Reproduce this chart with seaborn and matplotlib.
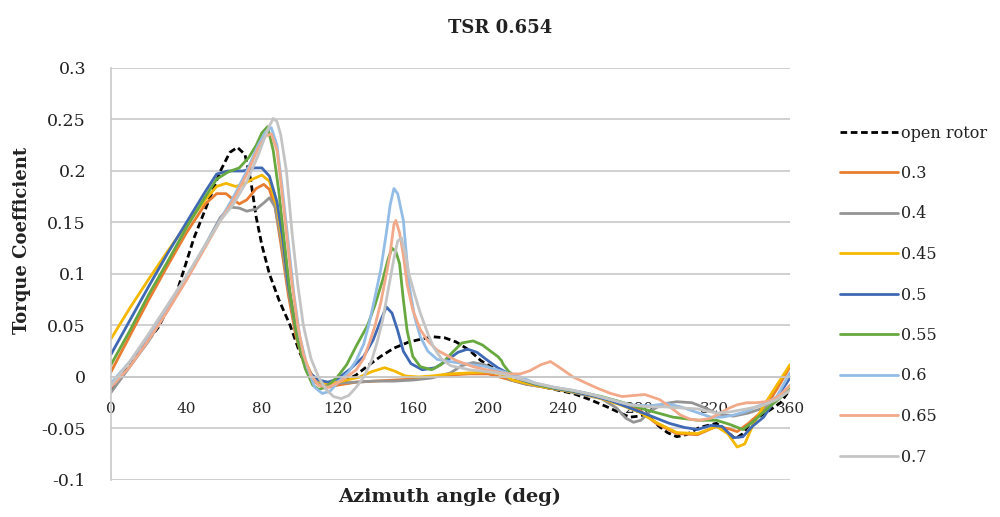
import numpy as np
import pandas as pd
import matplotlib
matplotlib.use("Agg")
import matplotlib.pyplot as plt
import seaborn as sns

# ---------------- data ----------------
series_names = ["open rotor", "0.3", "0.4", "0.45", "0.5", "0.55", "0.6", "0.65", "0.7"]

ang_open = [0, 6, 14, 25, 35, 44, 52, 58, 63, 67, 71, 74, 77, 80, 84, 89, 95, 100, 105, 110, 115, 122,
            130, 137, 143, 150, 158, 165, 171, 177, 183, 190, 196, 205, 215, 225, 235, 245, 254, 263, 270,
            275, 280, 284, 290, 295, 300, 305, 312, 321, 326, 331, 335, 340, 347, 355, 360]
cq_open = [-0.012, 0.004, 0.022, 0.048, 0.083, 0.135, 0.172, 0.2, 0.218, 0.223, 0.216, 0.192, 0.155, 0.128,
           0.1, 0.075, 0.05, 0.024, 0.004, -0.006, -0.008, -0.006, 0.002, 0.012, 0.02, 0.028, 0.034, 0.037,
           0.039, 0.038, 0.034, 0.026, 0.016, 0.006, -0.004, -0.008, -0.012, -0.016, -0.022, -0.029, -0.035,
           -0.039, -0.038, -0.036, -0.047, -0.054, -0.058, -0.056, -0.049, -0.045, -0.052, -0.06, -0.055,
           -0.042, -0.035, -0.025, -0.012]

ang_03 = [0, 10, 20, 30, 40, 50, 56, 61, 65, 68, 72, 77, 81, 84, 87, 90, 94, 98, 102, 106, 110, 115, 120,
          130, 140, 150, 160, 170, 180, 190, 200, 210, 220, 230, 240, 250, 260, 270, 280, 289, 300, 311, 321,
          327, 332, 338, 346, 353, 360]
cq_03 = [0.005, 0.04, 0.075, 0.108, 0.14, 0.168, 0.178, 0.178, 0.172, 0.168, 0.172, 0.183, 0.187, 0.182,
         0.165, 0.13, 0.08, 0.04, 0.015, 0.0, -0.008, -0.01, -0.008, -0.005, -0.004, -0.003, -0.002, 0.0,
         0.002, 0.003, 0.003, -0.002, -0.007, -0.01, -0.013, -0.016, -0.02, -0.025, -0.032, -0.045, -0.055,
         -0.056, -0.048, -0.05, -0.053, -0.045, -0.032, -0.012, 0.01]

ang_04 = [0, 10, 20, 30, 40, 50, 58, 63, 68, 72, 77, 81, 84, 87, 90, 94, 98, 102, 106, 110, 115, 120, 130,
          140, 150, 160, 170, 180, 186, 192, 198, 205, 212, 220, 230, 240, 250, 260, 268, 273, 277, 281, 286,
          293, 300, 308, 315, 322, 330, 338, 346, 353, 360]
cq_04 = [-0.015, 0.01, 0.035, 0.065, 0.095, 0.128, 0.155, 0.165, 0.164, 0.161, 0.163, 0.169, 0.174, 0.165,
         0.135, 0.085, 0.045, 0.018, 0.002, -0.006, -0.007, -0.006, -0.005, -0.004, -0.004, -0.003, -0.001,
         0.004, 0.011, 0.014, 0.012, 0.005, -0.003, -0.007, -0.01, -0.013, -0.017, -0.021, -0.03, -0.04,
         -0.044, -0.042, -0.033, -0.026, -0.024, -0.025, -0.03, -0.036, -0.038, -0.035, -0.03, -0.02, -0.012]

ang_045 = [0, 10, 20, 30, 40, 50, 56, 61, 66, 70, 75, 80, 84, 88, 91, 95, 99, 103, 107, 112, 118, 125, 132,
           138, 145, 150, 156, 163, 170, 180, 190, 200, 207, 213, 220, 230, 240, 250, 260, 270, 280, 290,
           300, 311, 321, 327, 332, 336, 340, 346, 353, 360]
cq_045 = [0.037, 0.067, 0.095, 0.122, 0.148, 0.172, 0.185, 0.188, 0.185, 0.187, 0.192, 0.196, 0.19, 0.165,
          0.13, 0.08, 0.04, 0.015, 0.0, -0.006, -0.006, -0.003, 0.0, 0.005, 0.009, 0.006, 0.001, 0.0, 0.001,
          0.003, 0.004, 0.005, 0.003, -0.003, -0.006, -0.01, -0.013, -0.016, -0.021, -0.027, -0.034, -0.045,
          -0.054, -0.055, -0.048, -0.055, -0.068, -0.065, -0.048, -0.028, -0.008, 0.012]

ang_05 = [0, 10, 20, 30, 40, 50, 56, 62, 70, 76, 80, 84, 88, 91, 94, 98, 102, 106, 110, 115, 120, 127, 134,
          139, 143, 146, 149, 152, 155, 159, 165, 172, 178, 184, 189, 194, 199, 205, 211, 218, 225, 235, 245,
          255, 265, 275, 285, 296, 304, 311, 318, 324, 330, 335, 340, 346, 353, 360]
cq_05 = [0.022, 0.055, 0.088, 0.12, 0.15, 0.18, 0.197, 0.2, 0.2, 0.203, 0.203, 0.195, 0.17, 0.135, 0.09,
         0.048, 0.018, 0.003, -0.003, -0.005, -0.002, 0.008, 0.02, 0.036, 0.055, 0.068, 0.062, 0.045, 0.025,
         0.013, 0.007, 0.009, 0.016, 0.024, 0.027, 0.024, 0.017, 0.009, 0.003, -0.003, -0.007, -0.011, -0.014,
         -0.018, -0.023, -0.03, -0.037, -0.045, -0.049, -0.051, -0.047, -0.048, -0.059, -0.058, -0.048,
         -0.039, -0.02, -0.001]

ang_055 = [0, 10, 20, 30, 40, 50, 56, 62, 68, 73, 77, 80, 83, 86, 89, 92, 95, 99, 103, 107, 110, 114, 120,
           125, 130, 136, 140, 144, 147, 149, 151, 153, 155, 157, 160, 164, 170, 175, 180, 186, 192, 197, 202,
           205, 207, 208, 211, 215, 222, 230, 240, 250, 260, 270, 284, 298, 311, 321, 328, 335, 340, 349,
           355, 360]
cq_055 = [0.012, 0.045, 0.08, 0.112, 0.145, 0.175, 0.192, 0.199, 0.203, 0.213, 0.225, 0.237, 0.243, 0.22,
          0.18, 0.13, 0.08, 0.035, 0.008, -0.008, -0.012, -0.01, 0.0, 0.012, 0.03, 0.05, 0.07, 0.094, 0.115,
          0.125, 0.122, 0.11, 0.075, 0.045, 0.02, 0.01, 0.007, 0.012, 0.022, 0.033, 0.035, 0.031, 0.024, 0.02,
          0.016, 0.012, 0.005, 0.0, -0.005, -0.009, -0.012, -0.015, -0.019, -0.024, -0.032, -0.039, -0.042,
          -0.042, -0.046, -0.051, -0.044, -0.029, -0.02, -0.012]

ang_06 = [0, 10, 20, 30, 40, 50, 58, 65, 72, 78, 82, 85, 88, 91, 94, 97, 100, 104, 108, 112, 116, 121, 126,
          130, 134, 137, 140, 143, 146, 148, 150, 152, 155, 158, 161, 164, 168, 173, 183, 199, 210, 217, 225,
          235, 245, 255, 265, 275, 285, 295, 302, 310, 318, 324, 330, 336, 342, 348, 353, 360]
cq_06 = [-0.006, 0.015, 0.04, 0.068, 0.097, 0.128, 0.153, 0.175, 0.2, 0.225, 0.238, 0.242, 0.225, 0.18,
         0.13, 0.08, 0.04, 0.01, -0.01, -0.016, -0.014, -0.004, 0.005, 0.016, 0.032, 0.053, 0.078, 0.104,
         0.14, 0.167, 0.183, 0.178, 0.152, 0.09, 0.058, 0.039, 0.025, 0.017, 0.014, 0.01, 0.004, 0.0, -0.006,
         -0.01, -0.013, -0.017, -0.022, -0.027, -0.028, -0.026, -0.029, -0.034, -0.039, -0.039, -0.037,
         -0.034, -0.029, -0.025, -0.019, 0.004]

ang_065 = [0, 10, 20, 30, 40, 50, 58, 65, 72, 78, 82, 85, 88, 90, 93, 96, 99, 102, 106, 110, 115, 120, 125,
           130, 134, 137, 140, 143, 146, 148, 150, 151, 153, 155, 157, 160, 164, 168, 173, 183, 192, 199, 210,
           217, 222, 228, 233, 238, 245, 252, 258, 265, 271, 277, 283, 291, 297, 302, 307, 312, 318, 323, 328,
           332, 337, 342, 347, 351, 355, 360]
cq_065 = [-0.01, 0.01, 0.036, 0.064, 0.094, 0.126, 0.152, 0.172, 0.197, 0.222, 0.234, 0.236, 0.22, 0.19,
          0.14, 0.09, 0.05, 0.022, 0.002, -0.008, -0.01, -0.006, 0.0, 0.007, 0.018, 0.033, 0.05, 0.072, 0.1,
          0.12, 0.148, 0.152, 0.14, 0.118, 0.09, 0.065, 0.046, 0.035, 0.026, 0.016, 0.01, 0.007, 0.003, 0.003,
          0.006, 0.012, 0.015, 0.009, 0.0, -0.006, -0.011, -0.016, -0.019, -0.018, -0.017, -0.022, -0.03,
          -0.037, -0.041, -0.042, -0.04, -0.035, -0.03, -0.027, -0.025, -0.025, -0.024, -0.022, -0.017,
          -0.008]

ang_07 = [0, 10, 20, 30, 40, 50, 58, 65, 72, 78, 83, 86, 88, 90, 93, 96, 99, 102, 106, 110, 114, 118, 122,
          126, 130, 134, 138, 141, 144, 147, 150, 152, 154, 156, 158, 161, 164, 168, 171, 175, 180, 190, 200,
          208, 215, 225, 235, 245, 255, 265, 275, 285, 293, 302, 311, 321, 328, 337, 345, 353, 360]
cq_07 = [-0.008, 0.015, 0.042, 0.07, 0.098, 0.128, 0.152, 0.168, 0.19, 0.215, 0.24, 0.251, 0.248, 0.235,
         0.2, 0.14, 0.09, 0.05, 0.018, 0.0, -0.012, -0.019, -0.021, -0.018, -0.01, 0.0, 0.015, 0.033, 0.055,
         0.085, 0.115, 0.132, 0.135, 0.12, 0.1, 0.08, 0.062, 0.042, 0.029, 0.018, 0.011, 0.007, 0.005, 0.003,
         -0.001, -0.006, -0.01, -0.013, -0.017, -0.022, -0.027, -0.029, -0.029, -0.03, -0.031, -0.035,
         -0.034, -0.031, -0.028, -0.022, -0.013]

x_ticks = [0, 40, 80, 120, 160, 200, 240, 280, 320, 360]
y_ticks = [-0.1, -0.05, 0, 0.05, 0.1, 0.15, 0.2, 0.25, 0.3]
y_tick_labels = ["-0.1", "-0.05", "0", "0.05", "0.1", "0.15", "0.2", "0.25", "0.3"]

# ---------------- styling ----------------
angles = [ang_open, ang_03, ang_04, ang_045, ang_05, ang_055, ang_06, ang_065, ang_07]
values = [cq_open, cq_03, cq_04, cq_045, cq_05, cq_055, cq_06, cq_065, cq_07]
colors = ["#000000", "#E97C30", "#949494", "#F5B800", "#3F69B5", "#67A83F", "#93BDE6", "#F2A98A", "#C4C4C4"]

frames = []
for name, a, v in zip(series_names, angles, values):
    frames.append(pd.DataFrame({"angle": a, "cq": v, "series": name}))
df = pd.concat(frames, ignore_index=True)

sns.set_theme(style="white")
plt.rcParams["font.family"] = ["DejaVu Serif"]

W, H = 1000, 517
fig = plt.figure(figsize=(W / 100, H / 100), dpi=100)
ax = fig.add_axes([0.111, 0.0716, 0.679, 0.7969])

for name, col in zip(series_names, colors):
    sub = df[df["series"] == name]
    kw = dict(dashes=(2.4, 1.3)) if name == "open rotor" else {}
    sns.lineplot(data=sub, x="angle", y="cq", color=col, lw=2.0, ax=ax, label=name,
                 sort=False, estimator=None, legend=False, **kw)

ax.set_xlim(0, 360)
ax.set_ylim(-0.1, 0.3)
ax.set_yticks(y_ticks)
ax.set_yticklabels(y_tick_labels, fontsize=12.5, color="#222222")
ax.set_xticks(x_ticks)
ax.set_xticklabels([str(t) for t in x_ticks], fontsize=12.5, color="#222222")
ax.yaxis.grid(True, color="#c8c8c8", lw=1.2)
ax.xaxis.grid(False)
ax.set_axisbelow(True)

for s in ["top", "right"]:
    ax.spines[s].set_visible(False)
ax.spines["left"].set_color("#c8c8c8")
ax.spines["left"].set_linewidth(1.2)
ax.spines["bottom"].set_position(("data", 0))
ax.spines["bottom"].set_color("#c8c8c8")
ax.spines["bottom"].set_linewidth(1.2)
ax.tick_params(axis="both", length=0)
ax.tick_params(axis="x", pad=18)
ax.tick_params(axis="y", pad=18)

ax.set_xlabel("")
ax.set_ylabel("")
fig.text(0.45, 0.038, "Azimuth angle (deg)", ha="center", va="center", fontsize=14, fontweight="bold",
         color="#222222")
fig.text(0.022, 0.535, "Torque Coefficient", ha="center", va="center", rotation=90, fontsize=13,
         fontweight="bold", color="#222222")
fig.text(0.5, 0.945, "TSR 0.654", ha="center", va="center", fontsize=13, fontweight="bold",
         color="#222222")

# legend: place so that entry centres sit at the reference rows (first ~133px, last ~457px from top)
handles = ax.get_lines()[:len(series_names)]
leg_fs = 11.5
target_first, target_last = 133.0, 457.0
ls = 1.42
top_px = 123.0


def make_legend(ls, top_px):
    lg = ax.legend(handles, series_names, loc="upper left", bbox_to_anchor=(0.840, 1 - top_px / H),
                   bbox_transform=fig.transFigure, frameon=False, fontsize=leg_fs, labelspacing=ls,
                   handlelength=3.6, handletextpad=0.25, borderpad=0, borderaxespad=0)
    for t in lg.get_texts():
        t.set_color("#222222")
    return lg


fs_px = leg_fs * 100 / 72.0
for _ in range(4):
    leg = make_legend(ls, top_px)
    fig.canvas.draw()
    r = fig.canvas.get_renderer()
    ts = leg.get_texts()
    e0 = ts[0].get_window_extent(r)
    e1 = ts[-1].get_window_extent(r)
    c0 = H - (e0.y0 + e0.y1) / 2
    c1 = H - (e1.y0 + e1.y1) / 2
    pitch = (c1 - c0) / 8.0
    ls += ((target_last - target_first) / 8.0 - pitch) / fs_px
    top_px += target_first - c0

leg = make_legend(ls, top_px)

fig.savefig("out.png", dpi=100)
